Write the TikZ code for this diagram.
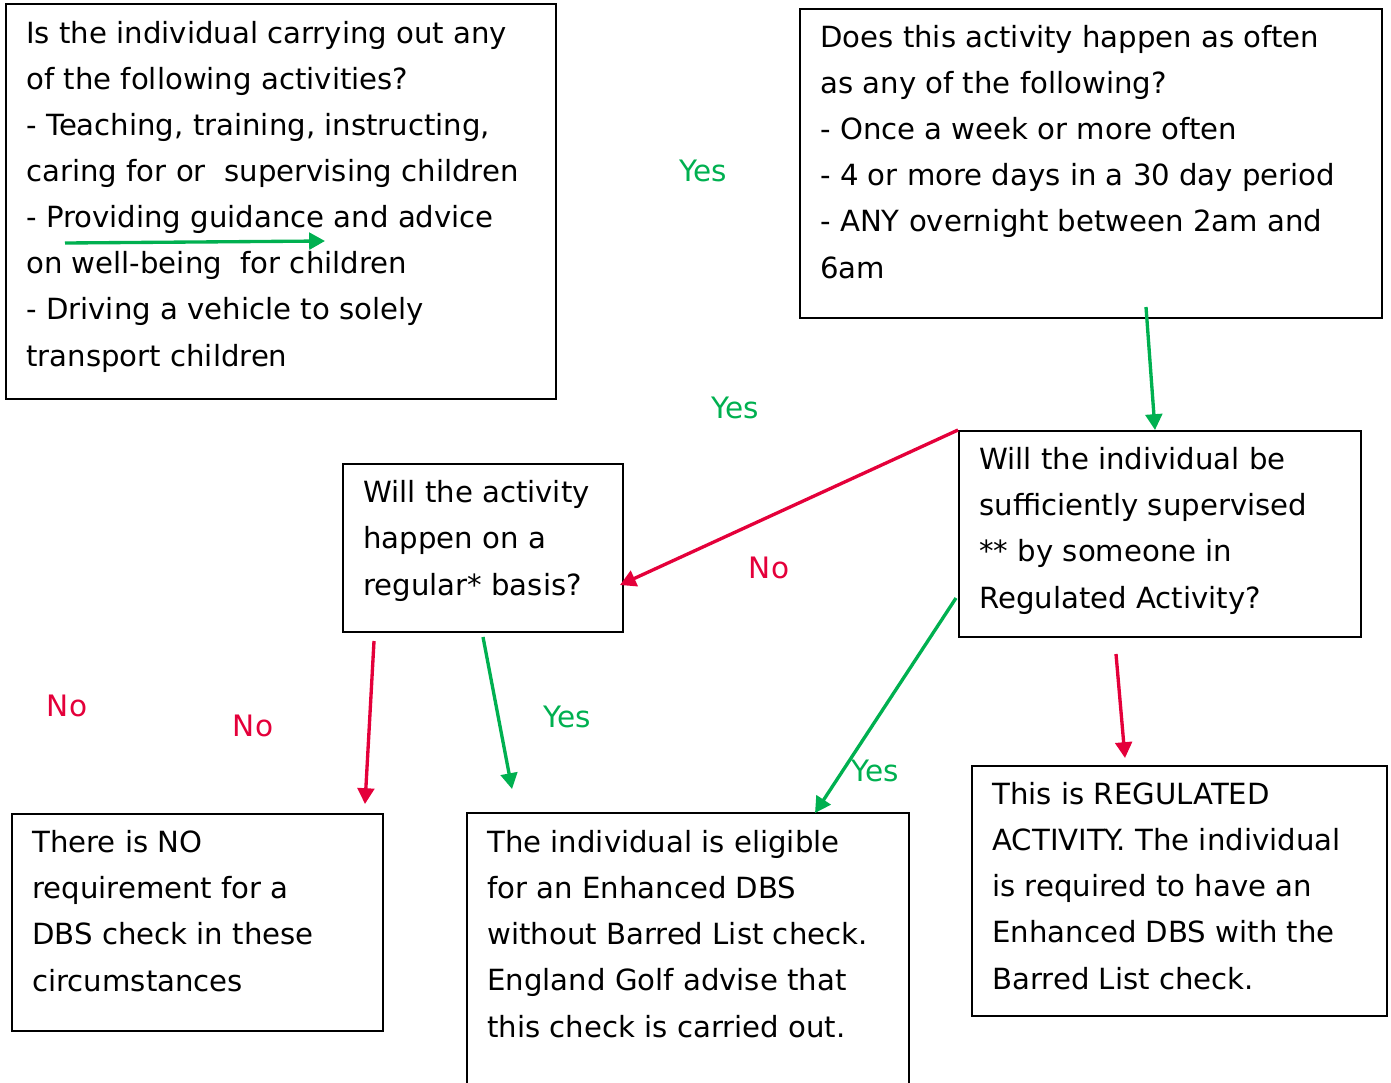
\documentclass[tikz,border=0pt]{standalone}
\usepackage{fontspec}
\setmainfont{DejaVu Sans}
\usepackage{xcolor}
\definecolor{yesgreen}{RGB}{0,176,80}
\definecolor{nored}{RGB}{228,0,58}
\usetikzlibrary{arrows.meta, positioning}

\newcommand{\pxl}[1]{#1*0.02cm}

\tikzset{
	box/.style={draw, line width=1.1pt, anchor=north west, inner sep=0pt},
	boxtext/.style={anchor=base west, align=left, inner sep=0pt, font=\fontsize{16.6}{26.25}\selectfont}, % anchored at last line
	yeslabel/.style={text=yesgreen, inner sep=0pt, font=\fontsize{16.8}{20}\selectfont},
	nolabel/.style={text=nored, inner sep=0pt, font=\fontsize{16.8}{20}\selectfont},
	yesarrow/.style={draw=yesgreen, line width=1.9pt, -{Triangle[length=9pt, width=9.5pt]}},
	noarrow/.style={draw=nored, line width=1.9pt, -{Triangle[length=9pt, width=9.5pt]}}
}

\begin{document}
\begin{tikzpicture}[x={(0.02cm,0)}, y={(0,-0.02cm)}]

\useasboundingbox (0,0) rectangle (1391,1082);

% boxes
\node[box, minimum width=\pxl{550}, minimum height=\pxl{395}] (activities) at (5,3) {};
\node[box, minimum width=\pxl{582}, minimum height=\pxl{309}] (often) at (799,8) {};
\node[box, minimum width=\pxl{280}, minimum height=\pxl{168}] (regular) at (342,463) {};
\node[box, minimum width=\pxl{402}, minimum height=\pxl{206}] (supervised) at (958,430) {};
\node[box, minimum width=\pxl{371}, minimum height=\pxl{217}] (nocheck) at (11,813) {};
\node[box, minimum width=\pxl{442}, minimum height=\pxl{290}] (enhanced) at (466,812) {};
\node[box, minimum width=\pxl{415}, minimum height=\pxl{250}] (regulated) at (971,765) {};

% box texts
\node[boxtext] (activities text) at (26,366) {Is the individual carrying out any\\of the following activities?\\- Teaching, training, instructing,\\caring for or\ \ supervising children\\- Providing guidance and advice\\on well-being\ \ for children\\- Driving a vehicle to solely\\transport children};
\node[boxtext] (often text) at (820,278) {Does this activity happen as often\\as any of the following?\\- Once a week or more often\\- 4 or more days in a 30 day period\\- ANY overnight between 2am and\\6am};
\node[boxtext] (regular text) at (363,595) {Will the activity\\happen on a\\regular* basis?};
\node[boxtext] (supervised text) at (979,608) {Will the individual be\\sufficiently supervised\\** by someone in\\Regulated Activity?};
\node[boxtext] (nocheck text) at (32,991) {There is NO\\requirement for a\\DBS check in these\\circumstances};
\node[boxtext] (enhanced text) at (487,1037) {The individual is eligible\\for an Enhanced DBS\\without Barred List check.\\England Golf advise that\\this check is carried out.};
\node[boxtext] (regulated text) at (992,989) {This is REGULATED\\ACTIVITY. The individual\\is required to have an\\Enhanced DBS with the\\Barred List check.};

% labels
\node[yeslabel] (yes top) at (703,171) {Yes};
\node[yeslabel] (yes mid) at (735,408) {Yes};
\node[nolabel] (no mid) at (769,568) {No};
\node[nolabel] (no left) at (67,706) {No};
\node[nolabel] (no regular) at (253,726) {No};
\node[yeslabel] (yes regular) at (567,717) {Yes};
\node[yeslabel] (yes supervised) at (875,771) {Yes};

% arrow ends
\coordinate (act out) at (65,243);
\coordinate (act in) at (325,241);
\coordinate (often out) at (1146,307);
\coordinate (sup in) at (1155,430);
\coordinate (reg in) at (620,585);
\coordinate (sup yes out) at (956,598);
\coordinate (enh sup in) at (815,813);
\coordinate (sup no out) at (1116,654);
\coordinate (regd in) at (1125,758);
\coordinate (reg no out) at (374,641);
\coordinate (nocheck in) at (365,804);
\coordinate (reg yes out) at (483,637);
\coordinate (enh reg in) at (512,789);

\draw[yesarrow] (act out) -- (act in);
\draw[yesarrow] (often out) -- (sup in);
\draw[noarrow] (supervised.north west) -- (reg in);
\draw[yesarrow] (sup yes out) -- (enh sup in);
\draw[noarrow] (sup no out) -- (regd in);
\draw[noarrow] (reg no out) -- (nocheck in);
\draw[yesarrow] (reg yes out) -- (enh reg in);

\end{tikzpicture}
\end{document}
